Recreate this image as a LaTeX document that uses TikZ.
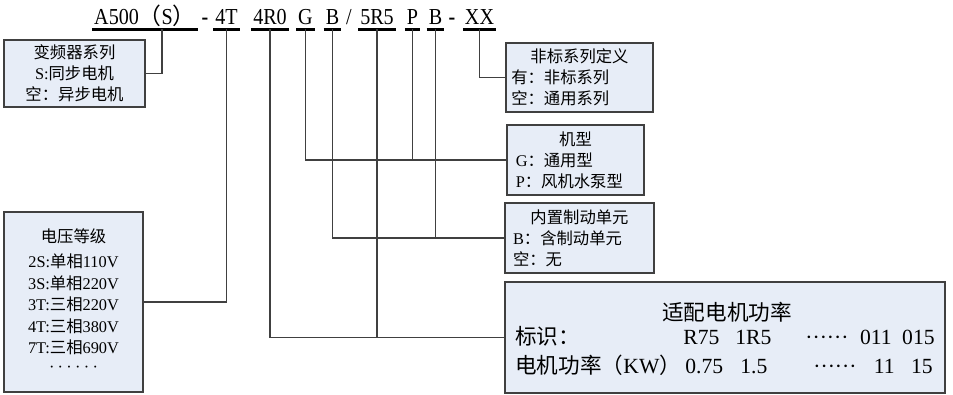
\documentclass[tikz,border=0pt]{standalone}
\usepackage{fontspec}
\setmainfont{Liberation Serif}
\newfontfamily\cjk{Noto Sans CJK SC}
\newfontfamily\codefont[FakeStretch=0.88]{Liberation Serif}
\usetikzlibrary{calc}
\definecolor{boxfill}{RGB}{231,237,247}
\definecolor{linegray}{RGB}{64,64,64}

\tikzset{
  code/.style={anchor=south, inner xsep=1pt, inner ysep=0pt, text depth=2.6pt,
    font=\codefont\fontsize{13}{15}\selectfont},
  bar/.style={line width=2.2pt},
  link/.style={draw=linegray, line width=0.6pt},
  infobox/.style={draw=black!75, line width=0.9pt, fill=boxfill, inner sep=0pt,
    font=\fontsize{9.3}{12}\selectfont},
  motortext/.style={font=\fontsize{12.3}{14}\selectfont, inner sep=0pt},
}

\begin{document}
\begin{tikzpicture}[x=0.02cm,y=-0.02cm]
  \useasboundingbox (0,0) rectangle (953,395);

  % model code
  \node[code] (a500) at (145,29.5) {A500{\cjk （}S{\cjk ）}};
  \node[code] (dash1) at (205,29.5) {\textbf{-}};
  \node[code] (volt) at (226.5,29.5) {4T};
  \node[code] (pow) at (270,29.5) {4R0};
  \node[code] (typ) at (305.5,29.5) {G};
  \node[code] (brk) at (332.5,29.5) {B};
  \node[code] (slash) at (349,29.5) {/};
  \node[code] (pow2) at (377,29.5) {5R5};
  \node[code] (typ2) at (412.5,29.5) {P};
  \node[code] (brk2) at (435.5,29.5) {B};
  \node[code] (dash2) at (452,29.5) {\textbf{-}};
  \node[code] (ext) at (479.5,29.5) {XX};

  \draw[bar] (a500.south west) -- (a500.south east);
  \draw[bar] (volt.south west) -- (volt.south east);
  \draw[bar] (pow.south west) -- (pow.south east);
  \draw[bar] (typ.south west) -- (typ.south east);
  \draw[bar] (brk.south west) -- (brk.south east);
  \draw[bar] (pow2.south west) -- (pow2.south east);
  \draw[bar] (typ2.south west) -- (typ2.south east);
  \draw[bar] (brk2.south west) -- (brk2.south east);
  \draw[bar] (ext.south west) -- (ext.south east);

  % boxes
  \node[infobox, minimum width=2.82cm, minimum height=1.34cm, align=center] (series) at (74.5,73.5)
    {{\cjk 变频器系列}\\S:{\cjk 同步电机}\\{\cjk 空：异步电机}};
  \node[infobox, minimum width=2.78cm, minimum height=3.6cm, align=center,
    font=\fontsize{9.3}{12.3}\selectfont] (grade) at (73.5,302)
    {{\cjk 电压等级}\\[2pt]2S:{\cjk 单相}110V\\3S:{\cjk 单相}220V\\3T:{\cjk 三相}220V\\
     4T:{\cjk 三相}380V\\7T:{\cjk 三相}690V\\\raisebox{1.5pt}{\hbox to 0.98cm{·\hfil·\hfil·\hfil·\hfil·\hfil·}}};
  \node[infobox, minimum width=2.94cm, minimum height=1.38cm, inner xsep=3pt,
    text width=2.73cm, align=left] (custom) at (579.5,77.5)
    {\makebox[\hsize]{\cjk 非标系列定义}\\{\cjk 有：非标系列}\\{\cjk 空：通用系列}};
  \node[infobox, minimum width=2.74cm, minimum height=1.4cm, inner xsep=5pt,
    text width=2.39cm, align=left] (model) at (575.5,160)
    {\makebox[\hsize]{\cjk 机型}\\G{\cjk ：通用型}\\P{\cjk ：风机水泵型}};
  \node[infobox, minimum width=2.98cm, minimum height=1.4cm, inner xsep=4.5pt,
    text width=2.66cm, align=left] (brake) at (579.5,238)
    {\makebox[\hsize]{\cjk 内置制动单元}\\B{\cjk ：含制动单元}\\{\cjk 空：无}};
  \node[infobox, minimum width=8.8cm, minimum height=2.22cm] (motor) at (725,337.5) {};

  \node[motortext, anchor=base] (mhead) at (727,320) {\cjk 适配电机功率};
  \node[motortext, anchor=base west] (mcode) at (515,344) {\cjk 标识：};
  \node[motortext, anchor=base west] (c1) at (683,344) {R75};
  \node[motortext, anchor=base west] (c2) at (735,344) {1R5};
  \node[motortext, anchor=base west] (c3) at (805,344) {······};
  \node[motortext, anchor=base east] (c4) at (892,344) {011};
  \node[motortext, anchor=base east] (c5) at (935,344) {015};
  \node[motortext, anchor=base west] (mkw) at (515,373) {{\cjk 电机功率（}KW{\cjk ）}};
  \node[motortext, anchor=base west] (k1) at (685,373) {0.75};
  \node[motortext, anchor=base west] (k2) at (740,373) {1.5};
  \node[motortext, anchor=base west] (k3) at (813,373) {······};
  \node[motortext, anchor=base east] (k4) at (895,373) {11};
  \node[motortext, anchor=base east] (k5) at (933,373) {15};

  % connectors
  \draw[link] ($(a500.south)+(17,0)$) |- (series.east);
  \draw[link] (volt.south) |- (grade.east);
  \draw[link] (pow.south) |- (motor.west);
  \draw[link] (pow2.south) -- (pow2.south |- motor.west);
  \draw[link] (typ.south) |- (model.west);
  \draw[link] (typ2.south) -- (typ2.south |- model.west);
  \draw[link] (brk.south) |- (brake.west);
  \draw[link] (brk2.south) -- (brk2.south |- brake.west);
  \draw[link] (ext.south) |- (custom.west);
\end{tikzpicture}
\end{document}
